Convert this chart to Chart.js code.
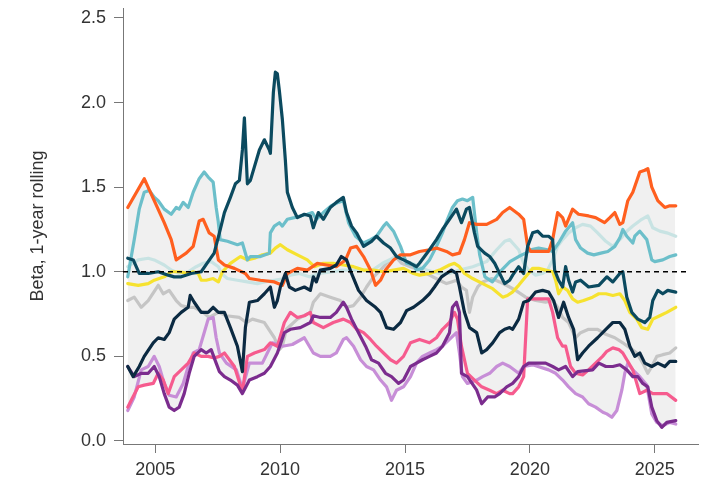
<!DOCTYPE html>
<html><head><meta charset="utf-8">
<script src="https://cdn.jsdelivr.net/npm/chart.js@4.4.1/dist/chart.umd.min.js"></script>
<style>html,body{margin:0;padding:0;background:#fff}</style>
</head><body>
<canvas id="c" width="703" height="482"></canvas>
<script>
// [year, beta] readings
const orangeSeries = [[2003.9,1.38],[2004.56,1.55],[2004.96,1.42],[2005.36,1.29],[2005.64,1.19],[2005.84,1.07],[2006.04,1.09],[2006.24,1.11],[2006.52,1.15],[2006.76,1.30],[2006.92,1.31],[2007.16,1.23],[2007.36,1.21],[2007.53,1.07],[2007.77,1.04],[2008.17,1.02],[2008.61,0.99],[2008.77,0.96],[2009.21,0.95],[2009.77,0.94],[2010.09,0.92],[2010.29,0.99],[2010.69,1.02],[2011.09,1.01],[2011.49,1.05],[2011.85,1.04],[2012.25,1.03],[2012.62,1.07],[2012.82,1.14],[2013.06,1.15],[2013.34,1.09],[2013.62,1.01],[2013.82,0.92],[2014.02,0.95],[2014.22,1.01],[2014.54,1.07],[2014.82,1.10],[2015.22,1.10],[2015.58,1.12],[2015.98,1.13],[2016.26,1.14],[2016.66,1.12],[2016.90,1.10],[2017.18,1.11],[2017.38,1.19],[2017.58,1.29],[2017.87,1.28],[2018.27,1.28],[2018.67,1.31],[2018.91,1.35],[2019.19,1.38],[2019.55,1.34],[2019.75,1.31],[2019.91,1.15],[2020.03,1.12],[2020.75,1.12],[2020.91,1.19],[2021.11,1.35],[2021.31,1.32],[2021.43,1.27],[2021.71,1.37],[2021.95,1.34],[2022.35,1.33],[2022.63,1.32],[2022.99,1.29],[2023.20,1.32],[2023.40,1.35],[2023.60,1.28],[2023.72,1.29],[2023.92,1.42],[2024.12,1.47],[2024.40,1.59],[2024.60,1.60],[2024.72,1.61],[2024.88,1.50],[2025.12,1.42],[2025.40,1.38],[2025.60,1.39],[2025.84,1.39]];
const tealSeries = [[2003.9,0.97],[2004.16,1.19],[2004.36,1.37],[2004.56,1.47],[2004.76,1.48],[2004.96,1.44],[2005.12,1.42],[2005.36,1.37],[2005.64,1.34],[2005.84,1.38],[2005.96,1.37],[2006.12,1.41],[2006.32,1.38],[2006.52,1.47],[2006.76,1.55],[2006.96,1.59],[2007.12,1.56],[2007.32,1.53],[2007.44,1.38],[2007.52,1.30],[2007.6,1.19],[2007.89,1.18],[2008.29,1.16],[2008.49,1.17],[2008.69,1.07],[2008.81,1.09],[2009.21,1.09],[2009.57,1.11],[2009.61,1.23],[2009.77,1.27],[2009.97,1.29],[2010.09,1.27],[2010.29,1.31],[2010.57,1.32],[2010.81,1.33],[2011.09,1.34],[2011.29,1.35],[2011.45,1.31],[2011.73,1.35],[2012.05,1.39],[2012.33,1.41],[2012.53,1.42],[2012.74,1.29],[2013.02,1.21],[2013.34,1.17],[2013.62,1.19],[2013.86,1.21],[2014.14,1.27],[2014.26,1.29],[2014.54,1.24],[2014.82,1.15],[2015.06,1.05],[2015.34,1.04],[2015.46,1.01],[2015.70,1.02],[2015.98,1.07],[2016.26,1.15],[2016.50,1.23],[2016.70,1.31],[2016.90,1.38],[2017.10,1.42],[2017.30,1.43],[2017.50,1.42],[2017.71,1.44],[2017.87,1.23],[2017.99,1.10],[2018.2,0.97],[2018.5,0.94],[2018.8,1.00],[2019.2,1.06],[2019.55,1.09],[2019.83,1.11],[2020.03,1.13],[2020.35,1.14],[2020.71,1.13],[2020.91,1.12],[2021.15,1.17],[2021.43,1.24],[2021.71,1.29],[2021.83,1.19],[2022.03,1.14],[2022.31,1.11],[2022.56,1.10],[2022.84,1.11],[2023.12,1.12],[2023.40,1.15],[2023.60,1.20],[2023.72,1.25],[2023.88,1.21],[2024.12,1.17],[2024.20,1.21],[2024.40,1.24],[2024.68,1.19],[2024.88,1.07],[2025.00,1.06],[2025.32,1.07],[2025.60,1.09],[2025.84,1.10]];
const paleTealSeries = [[2003.9,1.03],[2004.32,1.07],[2004.72,1.08],[2004.96,1.07],[2005.36,1.04],[2005.64,1.01],[2005.96,0.99],[2006.32,1.00],[2006.64,1.03],[2006.92,1.05],[2007.24,1.06],[2007.53,1.03],[2007.65,0.99],[2007.89,0.96],[2008.29,0.95],[2008.69,0.94],[2009.09,0.93],[2009.37,0.94],[2009.77,0.95],[2010.17,0.96],[2010.41,0.98],[2010.77,0.99],[2011.17,0.97],[2011.57,0.99],[2012.09,1.00],[2012.50,1.01],[2013.70,1.01],[2014.10,1.05],[2014.66,1.09],[2015.06,1.06],[2015.46,1.04],[2015.86,1.01],[2016.38,0.99],[2016.78,0.99],[2017.18,1.01],[2017.71,1.03],[2018.27,1.06],[2018.67,1.13],[2018.99,1.18],[2019.19,1.19],[2019.31,1.17],[2019.55,1.13],[2019.75,1.05],[2019.95,1.01],[2020.23,0.98],[2020.51,0.99],[2020.71,1.01],[2020.91,1.07],[2021.11,1.15],[2021.31,1.19],[2021.55,1.23],[2021.83,1.26],[2022.11,1.28],[2022.43,1.27],[2022.71,1.23],[2023.04,1.18],[2023.32,1.15],[2023.60,1.19],[2023.88,1.24],[2024.12,1.27],[2024.48,1.31],[2024.72,1.33],[2024.92,1.26],[2025.20,1.24],[2025.48,1.23],[2025.84,1.21]];
const yellowSeries = [[2003.9,0.93],[2004.32,0.92],[2004.72,0.93],[2004.96,0.95],[2005.36,0.97],[2005.64,1.00],[2005.96,1.00],[2006.32,0.99],[2006.52,1.00],[2006.72,0.99],[2006.84,0.95],[2007.04,0.95],[2007.32,0.96],[2007.53,0.94],[2007.69,1.00],[2008.01,1.05],[2008.41,1.09],[2008.69,1.07],[2008.97,1.08],[2009.29,1.10],[2009.61,1.11],[2009.81,1.14],[2010.01,1.16],[2010.29,1.13],[2010.69,1.10],[2011.09,1.07],[2011.37,1.03],[2011.73,1.05],[2012.13,1.05],[2012.53,1.04],[2012.94,1.03],[2013.34,1.01],[2013.74,1.01],[2014.14,1.00],[2014.54,1.01],[2014.94,1.02],[2015.34,0.99],[2015.58,0.98],[2015.98,0.99],[2016.38,1.01],[2016.78,1.04],[2016.98,1.05],[2017.18,1.03],[2017.38,0.99],[2017.71,0.96],[2018.11,0.93],[2018.51,0.90],[2018.91,0.85],[2019.1,0.86],[2019.3,0.88],[2019.55,0.92],[2019.83,0.97],[2020.11,1.02],[2020.35,1.02],[2020.63,1.01],[2020.91,1.00],[2021.03,0.95],[2021.15,0.87],[2021.31,0.91],[2021.51,0.89],[2021.71,0.84],[2021.91,0.82],[2022.15,0.83],[2022.51,0.85],[2022.76,0.87],[2023.04,0.87],[2023.32,0.86],[2023.60,0.87],[2023.80,0.83],[2024.00,0.76],[2024.28,0.72],[2024.48,0.67],[2024.72,0.66],[2024.92,0.72],[2025.20,0.74],[2025.48,0.76],[2025.84,0.79]];
const greySeries = [[2003.9,0.83],[2004.16,0.85],[2004.44,0.79],[2004.72,0.83],[2005.12,0.92],[2005.32,0.87],[2005.56,0.89],[2005.84,0.83],[2006.04,0.80],[2006.32,0.79],[2006.56,0.79],[2006.92,0.76],[2007.16,0.73],[2007.53,0.76],[2007.85,0.74],[2008.37,0.73],[2008.65,0.70],[2008.89,0.72],[2009.37,0.70],[2009.77,0.61],[2009.97,0.54],[2010.09,0.56],[2010.25,0.66],[2010.69,0.72],[2011.21,0.76],[2011.33,0.82],[2011.61,0.87],[2012.01,0.85],[2012.41,0.83],[2012.66,0.79],[2012.94,0.80],[2013.22,0.85],[2013.46,0.91],[2013.74,0.97],[2014.02,1.01],[2014.26,1.05],[2014.62,1.09],[2014.86,1.05],[2015.22,1.03],[2015.58,1.01],[2015.98,0.98],[2016.38,0.95],[2016.66,0.93],[2016.86,0.94],[2017.06,0.95],[2017.26,0.91],[2017.46,0.89],[2017.58,0.76],[2017.71,0.85],[2017.91,0.91],[2018.11,0.94],[2018.47,0.96],[2018.79,0.94],[2019.19,0.91],[2019.43,0.89],[2019.83,0.85],[2020.23,0.83],[2020.63,0.82],[2020.91,0.83],[2021.11,0.79],[2021.31,0.73],[2021.55,0.70],[2021.83,0.61],[2022.03,0.64],[2022.35,0.66],[2022.71,0.66],[2023.04,0.63],[2023.40,0.61],[2023.72,0.58],[2024.00,0.55],[2024.28,0.52],[2024.52,0.46],[2024.72,0.40],[2024.88,0.44],[2025.08,0.50],[2025.32,0.51],[2025.60,0.52],[2025.84,0.55]];
const darkTealSeries = [[2003.9,1.08],[2004.12,1.07],[2004.36,0.99],[2004.72,0.99],[2005.12,1.00],[2005.52,0.98],[2005.76,0.97],[2006.04,0.97],[2006.44,0.99],[2006.84,1.00],[2007.12,1.06],[2007.36,1.11],[2007.57,1.23],[2007.77,1.35],[2008.01,1.44],[2008.21,1.52],[2008.37,1.54],[2008.49,1.72],[2008.57,1.91],[2008.69,1.52],[2008.81,1.54],[2008.97,1.62],[2009.17,1.72],[2009.37,1.78],[2009.57,1.72],[2009.61,1.70],[2009.73,2.06],[2009.81,2.18],[2009.89,2.17],[2009.97,2.07],[2010.09,1.90],[2010.21,1.66],[2010.29,1.47],[2010.49,1.38],[2010.69,1.32],[2010.97,1.34],[2011.21,1.33],[2011.33,1.26],[2011.53,1.35],[2011.73,1.31],[2012.01,1.38],[2012.25,1.41],[2012.53,1.44],[2012.66,1.35],[2012.86,1.27],[2013.06,1.23],[2013.34,1.15],[2013.66,1.18],[2013.86,1.21],[2014.14,1.17],[2014.42,1.14],[2014.66,1.09],[2014.94,1.07],[2015.22,1.05],[2015.46,1.03],[2015.58,1.05],[2015.98,1.13],[2016.26,1.19],[2016.50,1.25],[2016.78,1.31],[2017.06,1.37],[2017.26,1.29],[2017.46,1.37],[2017.58,1.38],[2017.78,1.23],[2017.91,1.15],[2018.19,1.11],[2018.39,1.09],[2018.59,1.05],[2018.79,0.99],[2018.99,0.93],[2019.19,0.95],[2019.31,0.98],[2019.55,1.03],[2019.75,0.99],[2019.91,1.15],[2020.11,1.23],[2020.31,1.24],[2020.51,1.21],[2020.75,1.21],[2020.91,1.19],[2020.99,1.01],[2021.15,0.95],[2021.31,0.91],[2021.43,1.03],[2021.55,0.95],[2021.71,0.88],[2021.83,0.94],[2022.03,0.95],[2022.35,0.91],[2022.76,0.92],[2023.08,0.97],[2023.32,0.94],[2023.60,0.99],[2023.72,1.00],[2023.88,0.85],[2024.08,0.76],[2024.32,0.72],[2024.60,0.70],[2024.80,0.73],[2024.92,0.83],[2025.12,0.89],[2025.32,0.87],[2025.52,0.89],[2025.84,0.88]];
const navySeries = [[2003.9,0.44],[2004.12,0.38],[2004.36,0.44],[2004.56,0.50],[2004.92,0.58],[2005.12,0.61],[2005.36,0.60],[2005.56,0.64],[2005.76,0.72],[2006.04,0.76],[2006.32,0.79],[2006.40,0.86],[2006.56,0.82],[2006.84,0.76],[2007.12,0.76],[2007.32,0.79],[2007.53,0.76],[2007.77,0.76],[2008.01,0.67],[2008.29,0.56],[2008.49,0.41],[2008.61,0.67],[2008.77,0.82],[2009.09,0.83],[2009.37,0.87],[2009.61,0.91],[2009.77,0.79],[2009.89,0.83],[2010.01,0.91],[2010.21,0.99],[2010.37,0.91],[2010.61,0.89],[2010.97,0.91],[2011.21,0.89],[2011.33,0.97],[2011.45,0.94],[2011.61,1.01],[2012.01,1.02],[2012.25,1.04],[2012.45,1.09],[2012.66,1.07],[2012.86,0.99],[2013.14,0.89],[2013.46,0.83],[2013.82,0.79],[2014.02,0.76],[2014.26,0.67],[2014.54,0.66],[2014.82,0.70],[2015.06,0.77],[2015.34,0.79],[2015.70,0.83],[2015.98,0.87],[2016.18,0.91],[2016.46,0.97],[2016.66,0.99],[2016.86,1.01],[2017.06,0.99],[2017.18,0.91],[2017.38,0.76],[2017.58,0.67],[2017.87,0.64],[2018.07,0.52],[2018.27,0.54],[2018.51,0.58],[2018.79,0.64],[2018.99,0.66],[2019.19,0.67],[2019.31,0.66],[2019.55,0.72],[2019.75,0.82],[2019.95,0.83],[2020.23,0.88],[2020.51,0.89],[2020.75,0.88],[2020.95,0.83],[2021.15,0.73],[2021.35,0.82],[2021.55,0.73],[2021.75,0.66],[2021.91,0.48],[2022.11,0.52],[2022.35,0.56],[2022.71,0.61],[2023.04,0.66],[2023.32,0.70],[2023.60,0.70],[2023.80,0.66],[2024.00,0.56],[2024.20,0.50],[2024.40,0.52],[2024.60,0.46],[2024.88,0.44],[2025.12,0.46],[2025.40,0.44],[2025.60,0.47],[2025.84,0.47]];
const pinkSeries = [[2003.9,0.20],[2004.04,0.24],[2004.32,0.32],[2004.56,0.33],[2004.92,0.34],[2005.12,0.40],[2005.32,0.36],[2005.52,0.28],[2005.76,0.38],[2006.04,0.42],[2006.32,0.46],[2006.56,0.52],[2006.84,0.50],[2007.12,0.50],[2007.36,0.49],[2007.57,0.50],[2007.77,0.52],[2008.17,0.44],[2008.49,0.29],[2008.69,0.50],[2008.97,0.52],[2009.37,0.54],[2009.61,0.58],[2009.89,0.56],[2010.17,0.70],[2010.41,0.76],[2010.69,0.73],[2010.97,0.74],[2011.21,0.76],[2011.33,0.70],[2011.73,0.67],[2012.13,0.70],[2012.53,0.72],[2012.82,0.70],[2013.06,0.66],[2013.34,0.64],[2013.62,0.60],[2013.86,0.56],[2014.14,0.52],[2014.42,0.48],[2014.66,0.46],[2014.94,0.50],[2015.22,0.58],[2015.58,0.60],[2015.98,0.58],[2016.26,0.61],[2016.50,0.66],[2016.78,0.70],[2016.98,0.76],[2017.10,0.72],[2017.26,0.56],[2017.50,0.40],[2017.78,0.36],[2018.07,0.32],[2018.39,0.30],[2018.67,0.28],[2018.91,0.30],[2019.19,0.28],[2019.31,0.28],[2019.55,0.32],[2019.75,0.38],[2019.91,0.84],[2020.11,0.84],[2020.51,0.84],[2020.75,0.84],[2020.91,0.76],[2021.11,0.61],[2021.31,0.56],[2021.43,0.56],[2021.63,0.44],[2021.83,0.40],[2022.11,0.39],[2022.35,0.42],[2022.63,0.46],[2022.91,0.50],[2023.08,0.53],[2023.32,0.55],[2023.56,0.54],[2023.72,0.52],[2023.88,0.48],[2024.12,0.42],[2024.40,0.28],[2024.68,0.30],[2024.92,0.28],[2025.20,0.28],[2025.48,0.28],[2025.84,0.24]];
const lavenderSeries = [[2003.9,0.18],[2004.16,0.26],[2004.44,0.42],[2004.72,0.44],[2004.96,0.50],[2005.16,0.44],[2005.36,0.34],[2005.56,0.27],[2005.84,0.26],[2006.12,0.34],[2006.32,0.44],[2006.52,0.52],[2006.76,0.54],[2006.96,0.64],[2007.12,0.72],[2007.32,0.73],[2007.44,0.61],[2007.57,0.52],[2007.85,0.46],[2008.25,0.42],[2008.49,0.31],[2008.77,0.46],[2009.29,0.46],[2009.69,0.58],[2010.09,0.56],[2010.49,0.57],[2010.97,0.61],[2011.33,0.52],[2011.61,0.50],[2012.01,0.50],[2012.25,0.52],[2012.53,0.60],[2012.66,0.61],[2012.94,0.56],[2013.22,0.48],[2013.46,0.44],[2013.74,0.42],[2014.02,0.36],[2014.26,0.32],[2014.46,0.24],[2014.66,0.30],[2014.94,0.32],[2015.22,0.38],[2015.46,0.46],[2015.70,0.50],[2015.98,0.52],[2016.26,0.54],[2016.50,0.56],[2016.78,0.60],[2017.06,0.64],[2017.18,0.52],[2017.30,0.38],[2017.50,0.34],[2017.87,0.36],[2018.11,0.38],[2018.39,0.40],[2018.67,0.44],[2018.91,0.46],[2019.19,0.44],[2019.55,0.40],[2019.75,0.44],[2020.11,0.45],[2020.75,0.42],[2021.03,0.40],[2021.31,0.36],[2021.55,0.32],[2021.83,0.28],[2022.11,0.26],[2022.35,0.22],[2022.63,0.20],[2022.92,0.17],[2023.08,0.16],[2023.28,0.14],[2023.48,0.18],[2023.68,0.30],[2023.80,0.40],[2023.92,0.46],[2024.12,0.42],[2024.40,0.38],[2024.68,0.33],[2024.88,0.16],[2025.08,0.11],[2025.32,0.09],[2025.60,0.11],[2025.84,0.10]];
const purpleSeries = [[2003.9,0.44],[2004.16,0.38],[2004.44,0.40],[2004.72,0.40],[2004.96,0.44],[2005.16,0.38],[2005.36,0.28],[2005.56,0.20],[2005.76,0.18],[2005.96,0.20],[2006.16,0.28],[2006.36,0.40],[2006.56,0.50],[2006.84,0.54],[2007.04,0.52],[2007.24,0.54],[2007.44,0.46],[2007.57,0.41],[2007.77,0.38],[2008.01,0.36],[2008.29,0.33],[2008.49,0.28],[2008.77,0.36],[2009.09,0.38],[2009.37,0.40],[2009.61,0.44],[2009.89,0.52],[2010.17,0.64],[2010.41,0.66],[2010.81,0.67],[2011.21,0.70],[2011.33,0.74],[2011.61,0.73],[2012.01,0.73],[2012.25,0.76],[2012.53,0.82],[2012.66,0.79],[2012.86,0.72],[2013.14,0.64],[2013.42,0.56],[2013.66,0.48],[2013.94,0.46],[2014.22,0.40],[2014.46,0.38],[2014.74,0.34],[2014.94,0.36],[2015.22,0.44],[2015.46,0.46],[2015.70,0.48],[2015.98,0.50],[2016.26,0.52],[2016.50,0.56],[2016.78,0.64],[2016.90,0.79],[2017.06,0.82],[2017.18,0.76],[2017.26,0.40],[2017.50,0.38],[2017.87,0.30],[2018.07,0.22],[2018.31,0.26],[2018.59,0.26],[2018.79,0.28],[2019.07,0.32],[2019.31,0.34],[2019.55,0.38],[2019.75,0.44],[2019.95,0.46],[2020.63,0.46],[2020.91,0.44],[2021.15,0.42],[2021.43,0.44],[2021.71,0.38],[2021.91,0.41],[2022.51,0.42],[2022.76,0.46],[2023.04,0.44],[2023.32,0.44],[2023.60,0.45],[2023.88,0.42],[2024.12,0.38],[2024.32,0.38],[2024.52,0.34],[2024.72,0.32],[2024.88,0.20],[2025.08,0.12],[2025.28,0.08],[2025.48,0.11],[2025.84,0.12]];

const xTickValues = [2005, 2010, 2015, 2020, 2025];
const yTickValues = [0, 0.5, 1.0, 1.5, 2.0, 2.5];
const referenceLevel = 1.0;

const seriesList = [
  {name:'navy', data:navySeries, color:'#0b2a42', order:1},
  {name:'darkTeal', data:darkTealSeries, color:'#0b4a5f', order:2},
  {name:'purple', data:purpleSeries, color:'#7b2c8e', order:3},
  {name:'pink', data:pinkSeries, color:'#f65b8e', order:4},
  {name:'orange', data:orangeSeries, color:'#ff5f1f', order:5},
  {name:'teal', data:tealSeries, color:'#6cbfca', order:6},
  {name:'yellow', data:yellowSeries, color:'#f6e22f', order:7},
  {name:'lavender', data:lavenderSeries, color:'#c78ed7', order:8},
  {name:'paleTeal', data:paleTealSeries, color:'#c8e3e3', order:9},
  {name:'grey', data:greySeries, color:'#c5c5c5', order:10}
];

function interp(s, x){
  if (x <= s[0][0]) return s[0][1];
  for (let i=1;i<s.length;i++){
    if (x <= s[i][0]){
      const [x0,y0]=s[i-1],[x1,y1]=s[i];
      return y0 + (y1-y0)*(x-x0)/(x1-x0);
    }
  }
  return s[s.length-1][1];
}
// envelope (min/max across series) for the shaded band
const gridXs = [];
for (let x=2003.9; x<=2025.8401; x+=0.01) gridXs.push(+x.toFixed(3));
const upper = gridXs.map(x=>({x, y: Math.max(...seriesList.map(s=>interp(s.data,x)))}));
const lower = gridXs.map(x=>({x, y: Math.min(...seriesList.map(s=>interp(s.data,x)))}));

const datasets = [];
datasets.push({data: lower, borderWidth:0, pointRadius:0, fill:false, order:101, borderColor:'rgba(0,0,0,0)'});
datasets.push({data: upper, borderWidth:0, pointRadius:0, fill:0, backgroundColor:'#f0f0f0', order:100, borderColor:'rgba(0,0,0,0)'});
seriesList.forEach(s=>{
  datasets.push({label:s.name, data:s.data.map(([x,y])=>({x,y})), borderColor:s.color, borderWidth:3.2, pointRadius:0, fill:false, tension:0, order:s.order, borderJoinStyle:'round', borderCapStyle:'round'});
});
datasets.push({data:[{x:2003.71,y:referenceLevel},{x:2026.4,y:referenceLevel}], borderColor:'#000', borderWidth:1.5, borderDash:[5,4], pointRadius:0, fill:false, order:0});

const axisColor = '#777';
const textColor = '#333';
const fontFamily = '"Liberation Sans", Arial, sans-serif';

new Chart(document.getElementById('c'), {
  type:'line',
  data:{datasets},
  options:{
    responsive:false, animation:false, devicePixelRatio:1,
    layout:{padding:{top:3,right:5,left:0,bottom:0}},
    plugins:{legend:{display:false}, tooltip:{enabled:false}},
    scales:{
      x:{type:'linear', min:2003.71, max:2026.73,
        afterBuildTicks:(sc)=>{sc.ticks = xTickValues.map(v=>({value:v}));},
        afterFit:(sc)=>{sc.height = 38;},
        grid:{display:true, drawOnChartArea:false, drawTicks:true, tickLength:9, color:axisColor},
        border:{display:true, color:axisColor, width:1},
        ticks:{color:textColor, font:{family:fontFamily, size:18}, padding:6, maxRotation:0, autoSkip:false, callback:(v)=>String(v)}
      },
      y:{type:'linear', min:-0.018, max:2.559,
        afterBuildTicks:(sc)=>{sc.ticks = yTickValues.map(v=>({value:v}));},
        afterFit:(sc)=>{sc.width = 123;},
        grid:{display:true, drawOnChartArea:false, drawTicks:true, tickLength:9, color:axisColor},
        border:{display:true, color:axisColor, width:1},
        ticks:{color:textColor, font:{family:fontFamily, size:18, lineHeight:0}, padding:8, autoSkip:false, callback:(v)=>Number(v).toFixed(1)},
        title:{display:true, text:'Beta, 1-year rolling', color:textColor, font:{family:fontFamily, size:18}, padding:{top:27,bottom:0}}
      }
    }
  }
});
</script>
</body></html>
